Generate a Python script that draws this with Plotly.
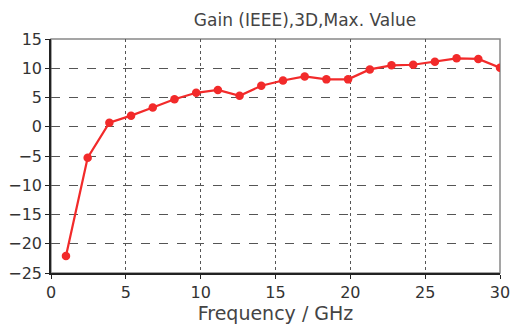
import plotly.graph_objects as go

freq = [1, 2.45, 3.9, 5.35, 6.8, 8.25, 9.7, 11.15, 12.6, 14.05, 15.5, 16.95,
        18.4, 19.85, 21.3, 22.75, 24.2, 25.65, 27.1, 28.55, 30]
gain = [-22.1, -5.3, 0.7, 1.9, 3.3, 4.7, 5.8, 6.3, 5.3, 7.0, 7.9, 8.6,
        8.1, 8.1, 9.8, 10.5, 10.6, 11.1, 11.7, 11.6, 10.1]
x_ticks = [0, 5, 10, 15, 20, 25, 30]
y_ticks = [15, 10, 5, 0, -5, -10, -15, -20, -25]

fig = go.Figure()
fig.add_trace(go.Scatter(
    x=freq, y=gain, mode="lines+markers",
    line=dict(color="#f22a2a", width=2.2),
    marker=dict(color="#f22a2a", size=8.5),
    cliponaxis=True, showlegend=False,
))

font = "DejaVu Sans, Verdana, sans-serif"
fig.update_layout(
    width=513, height=329,
    margin=dict(l=51, r=13, t=39, b=56),
    paper_bgcolor="white", plot_bgcolor="white",
    title=dict(text="Gain (IEEE),3D,Max. Value", x=305/513, xanchor="center",
               y=1 - 20/329, yanchor="middle",
               font=dict(family=font, size=17, color="#444444")),
    font=dict(family=font, size=16, color="#333333"),
    xaxis=dict(range=[0, 30], tickvals=x_ticks, ticks="outside", ticklen=4,
               tickcolor="#222", showline=True, linecolor="#222", linewidth=1.5,
               showgrid=True, gridcolor="#555", griddash="dot", gridwidth=1,
               zeroline=False, automargin=False,
               tickfont=dict(family=font, size=16, color="#333"),
               title=dict(text="Frequency / GHz", standoff=4,
                          font=dict(family=font, size=19, color="#444"))),
    yaxis=dict(range=[-25, 15], tickvals=y_ticks, ticks="outside", ticklen=4,
               tickcolor="#222", showline=True, linecolor="#222", linewidth=1.5,
               showgrid=True, gridcolor="#555", griddash="dash", gridwidth=1,
               zeroline=False, automargin=False,
               tickfont=dict(family=font, size=16, color="#333")),
    shapes=[dict(type="rect", xref="paper", yref="paper", x0=0, x1=1, y0=0, y1=1,
                 line=dict(color="#888", width=1.5), layer="below")],
)
fig.write_html("out.html")
